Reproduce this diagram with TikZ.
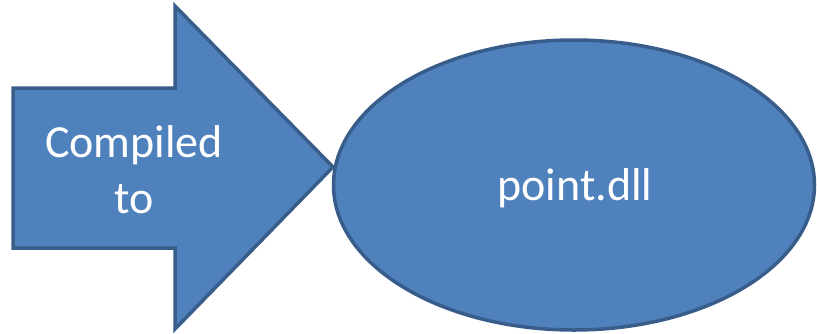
\documentclass[tikz,border=0pt]{standalone}
\usepackage{fontspec}
\setmainfont{Carlito}
\usetikzlibrary{shapes.geometric}
\definecolor{shapefill}{HTML}{4F81BD}
\definecolor{shapeline}{HTML}{385D8A}
\tikzset{
  shapestyle/.style={fill=shapefill, draw=shapeline, line width=3.5pt, line join=miter},
  label text/.style={text=white, font=\fontsize{46}{56}\selectfont, inner sep=0pt},
}
\begin{document}
\begin{tikzpicture}[x=1pt,y=-1pt]
\useasboundingbox (0,0) rectangle (817,333);
% arrow
\coordinate (a1) at (13,88);
\coordinate (a2) at (175,88);
\coordinate (a3) at (175,6);
\coordinate (tip) at (333,167);
\coordinate (a5) at (175,329);
\coordinate (a6) at (175,248);
\coordinate (a7) at (13,248);
\draw[shapestyle] (a1) -- (a2) -- (a3) -- (tip) -- (a5) -- (a6) -- (a7) -- cycle;
\node[label text, align=center, anchor=base] (lbl) at (134,213) {Compiled\\to};
% ellipse
\node[shapestyle, ellipse, minimum width=481pt, minimum height=290pt, inner sep=0pt] (dll) at (574,185) {};
\node[label text, anchor=base] (dlltext) at (575,200) {point.dll};
\end{tikzpicture}
\end{document}
